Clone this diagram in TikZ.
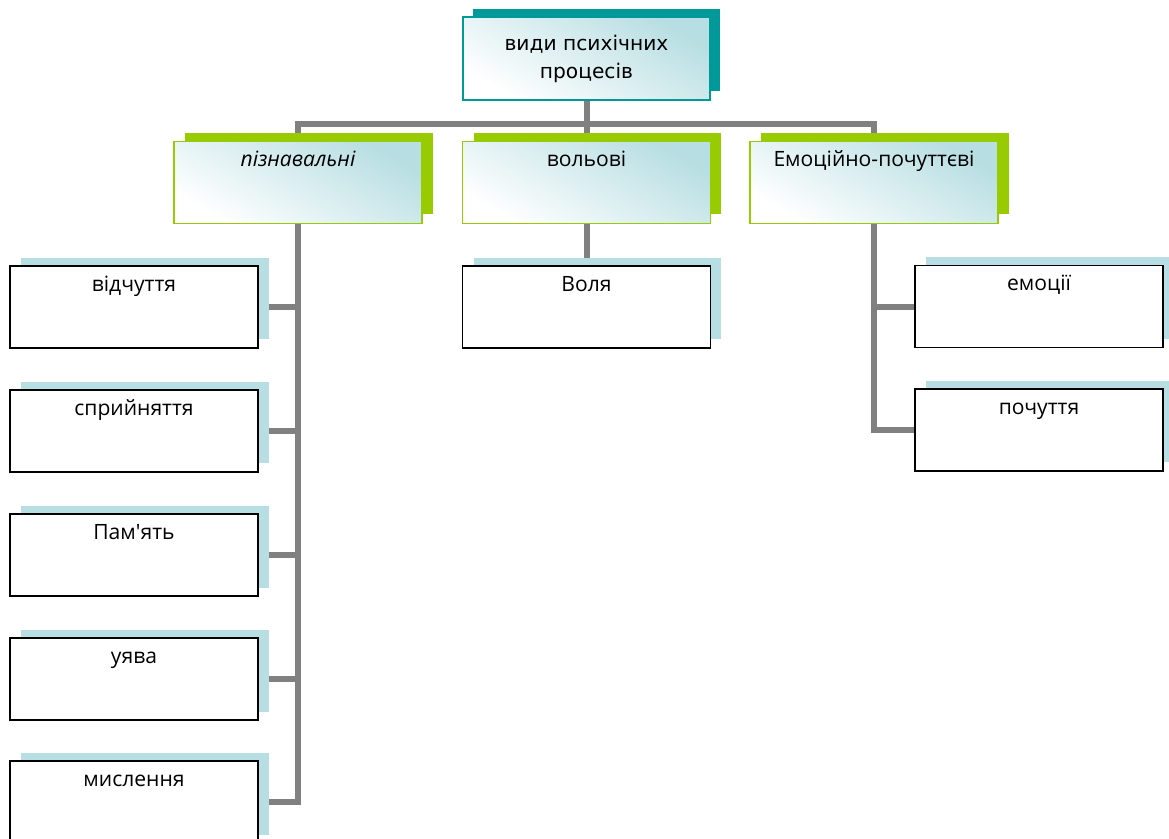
\documentclass[tikz,border=0pt]{standalone}
\usepackage{fontspec}
\setmainfont{Open Sans}
\newfontfamily\topfont{DejaVu Sans}
\usetikzlibrary{shadows,backgrounds}

\definecolor{tealc}{RGB}{0,153,153}
\definecolor{greenc}{RGB}{153,204,0}
\definecolor{lteal}{RGB}{183,222,226}
\definecolor{linec}{RGB}{128,128,128}

\begin{document}
\begin{tikzpicture}[x=0.02cm,y=-0.02cm,
  box/.style={rectangle,minimum width=4.96cm,minimum height=1.64cm,inner xsep=2pt,inner ysep=0pt,
    text height=0.5cm,text depth=1.14cm,font=\fontsize{12}{14}\selectfont,line width=0.8pt},
  head box/.style={box,draw=greenc,top color=lteal,bottom color=white,shading angle=-30,
    general shadow={fill=greenc,shadow xshift=0.22cm,shadow yshift=0.18cm}},
  leaf box/.style={box,draw=black,fill=white,
    general shadow={fill=lteal,shadow xshift=0.22cm,shadow yshift=0.17cm}},
  top box/.style={rectangle,minimum width=4.94cm,minimum height=1.66cm,inner sep=0pt,align=center,
    draw=tealc,line width=0.8pt,top color=lteal,bottom color=white,shading angle=-30,
    font=\topfont\fontsize{11.5}{16}\selectfont,
    general shadow={fill=tealc,shadow xshift=0.2cm,shadow yshift=0.17cm}},
  conn/.style={draw=linec,line width=0.12cm}]

\useasboundingbox (0,0) rectangle (1169,838);

% top
\node[top box] (top) at (586.5,58.5) {види психічних\\процесів};

% second row
\node[head box] (pz) at (298,182.5) {\itshape пізнавальні};
\node[head box] (vo) at (586.5,182.5) {вольові};
\node[head box] (ep) at (874,182.5) {Емоційно-почуттєві};

% leaves
\node[leaf box] (vi) at (134,307) {відчуття};
\node[leaf box] (sp) at (134,431) {сприйняття};
\node[leaf box] (pa) at (134,555) {Пам\textquotesingle ять};
\node[leaf box] (uy) at (134,679) {уява};
\node[leaf box] (mi) at (134,802) {мислення};
\node[leaf box] (vl) at (586.5,307) {Воля};
\node[leaf box] (emo) at (1039,306.5) {емоції};
\node[leaf box] (po) at (1039,430) {почуття};

\coordinate (bus) at (586.5,124);

\begin{scope}[on background layer]
\draw[conn] (top.south) -- (vo.north);
\draw[conn] (pz.north) |- (bus) -| (ep.north);
\draw[conn] (pz.south) |- (mi.east);
\draw[conn] (pz.south |- vi.east) -- (vi.east);
\draw[conn] (pz.south |- sp.east) -- (sp.east);
\draw[conn] (pz.south |- pa.east) -- (pa.east);
\draw[conn] (pz.south |- uy.east) -- (uy.east);
\draw[conn] (vo.south) -- (vl.north);
\draw[conn] (ep.south) |- (po.west);
\draw[conn] (ep.south |- emo.west) -- (emo.west);
\end{scope}
\end{tikzpicture}
\end{document}
